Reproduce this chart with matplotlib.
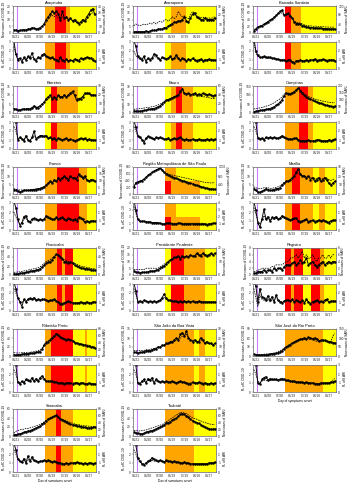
import numpy as np
import matplotlib.pyplot as plt
import matplotlib.dates as mdates

plt.rcParams['font.family'] = ['Liberation Sans', 'DejaVu Sans']

# sampling dates (every 5 days) and reference dates
days = np.arange('2020-03-16', '2020-10-03', 5, dtype='datetime64[D]')
quarantine = '2020-03-24'
tick_dates = ['2020-03-21', '2020-04-20', '2020-05-20', '2020-06-19',
              '2020-07-19', '2020-08-18', '2020-09-17']
phase_colors = {'red': '#ff0000', 'orange': '#ffa500', 'yellow': '#ffff00'}

# ---- Araçatuba
aracatuba_cases = [2,2,1.5,2,2,2.5,2,3,3,4, 3.5,3,3,4,5,7,10,12,14,16, 15,16,14,10,16,11,12,10,11,9, 10,8,7,8,10,9,12,14,17,18, 14]
aracatuba_sari = [4,5,4,4,4,5,5,6,6,7, 7,6,7,8,10,12,16,20,24,26, 24,26,22,20,24,22,22,20,21,18, 18,16,15,16,18,17,20,24,28,30, 26]
aracatuba_rt = [3.2,1.7,1.0,1.2,0.8,1.3,1.0,1.4,1.2,1.8, 1.1,0.9,1.3,1.2,1.6,1.7,1.4,1.3,1.2,1.3, 1.1,1.0,0.9,1.3,1.0,0.9,1.1,0.9,1.0,0.9, 1.1,1.0,0.9,1.2,1.1,1.2,1.3,1.2,1.2,1.0, 0.9]
aracatuba_rt_sari = [2.5,1.6,1.2,1.1,1.0,1.1,1.1,1.2,1.2,1.3, 1.2,1.1,1.2,1.2,1.4,1.5,1.4,1.3,1.2,1.2, 1.1,1.0,1.0,1.1,1.0,1.0,1.0,0.9,1.0,0.9, 1.0,1.0,1.0,1.1,1.1,1.2,1.3,1.3,1.2,1.2, 1.0]
aracatuba_change = ['2020-06-01', '2020-06-26', '2020-07-24', '2020-08-03']
aracatuba_phase = ['orange', 'red', 'orange', 'yellow']

# ---- Araraquara
araraquara_cases = [1,1,1,1,1,1,1.5,1,1.5,2, 2,2,3,3,3,4,4,5,6,7, 8,8,9,9,10,12,9,8,11,14, 15,12,11,10,10,11,10,10,10,10, 11]
araraquara_sari = [8,10,9,8,9,10,9,10,11,10, 12,10,12,13,12,14,15,13,15,18, 16,18,24,20,18,19,17,16,20,24, 22,19,18,17,17,18,16,17,16,17, 18]
araraquara_rt = [3.2,2.5,1.4,1.2,1.0,1.4,0.8,1.2,1.0,1.2, 1.7,1.5,1.2,1.0,1.3,1.2,1.1,1.2,1.4,1.1, 1.2,1.6,1.2,1.0,1.2,1.1,0.9,1.1,1.0,1.2, 1.0,0.9,1.0,1.1,0.9,1.0,1.0,1.1,1.0,1.0, 1.0]
araraquara_rt_sari = [2.0,1.5,1.2,1.1,1.1,1.2,1.0,1.1,1.1,1.2, 1.4,1.3,1.2,1.1,1.2,1.2,1.1,1.2,1.3,1.1, 1.2,1.3,1.1,1.0,1.1,1.0,1.0,1.0,1.0,1.1, 1.0,1.0,1.0,1.0,1.0,1.0,1.0,1.0,1.0,1.0, 1.0]
araraquara_change = ['2020-06-01', '2020-06-15', '2020-07-24']
araraquara_phase = ['yellow', 'orange', 'yellow']

# ---- Baixada Santista
baixada_cases = [5,12,18,20,22,26,30,34,38,42, 46,52,58,64,68,52,56,58,50,44, 32,28,28,26,22,20,18,17,16,16, 15,15,14,14,13,13,13,12,12,12, 12]
baixada_sari = [15,20,25,28,32,38,44,50,56,62, 68,76,84,90,88,80,82,80,74,66, 54,48,46,44,40,36,34,32,32,30, 30,30,28,28,28,27,27,26,26,26, 26]
baixada_rt = [3.5,2.0,1.5,1.3,1.3,1.4,1.3,1.3,1.3,1.2, 1.2,1.1,1.1,1.0,1.0,1.0,0.9,1.0,1.0,0.8, 0.7,0.9,0.9,1.0,0.9,0.9,1.0,0.9,1.0,1.0, 1.1,0.9,1.0,1.0,1.1,1.0,0.9,1.0,1.0,1.0, 0.9]
baixada_rt_sari = [3.0,1.8,1.4,1.3,1.3,1.3,1.2,1.2,1.2,1.2, 1.1,1.1,1.1,1.0,1.0,1.0,0.9,1.0,0.9,0.8, 0.8,0.9,0.9,1.0,0.9,0.9,1.0,1.0,1.0,1.0, 1.0,1.0,1.0,1.0,1.0,1.0,1.0,1.0,1.0,1.0, 1.0]
baixada_change = ['2020-06-01', '2020-06-15', '2020-07-10']
baixada_phase = ['red', 'orange', 'yellow']

# ---- Barretos
barretos_cases = [2.5,2,1.5,1.5,2,2,2,2.5,2,3, 4,3,3,4,5,6,8,9,10,8, 9,8,10,9,9,10,9,10,11,12, 10,7,8,8,9,11,11,11,10,10, 10]
barretos_sari = [5,4,4,4,4,5,5,5,5,6, 6,7,7,8,10,12,14,16,18,16, 17,16,18,18,18,19,18,19,20,22, 20,16,16,17,18,20,21,21,20,20, 20]
barretos_rt = [3.2,3.0,1.0,1.3,1.1,0.9,1.5,1.0,0.9,1.3, 2.0,1.1,1.3,1.5,1.5,1.4,1.5,1.2,1.3,1.1, 1.2,1.0,1.2,1.1,1.0,1.1,1.2,1.0,1.1,1.0, 0.9,1.0,1.1,1.2,1.1,1.2,1.0,1.1,1.0,1.0, 1.0]
barretos_rt_sari = [2.5,2.0,1.2,1.2,1.1,1.0,1.3,1.1,1.0,1.2, 1.5,1.2,1.3,1.4,1.4,1.3,1.4,1.2,1.2,1.1, 1.1,1.0,1.1,1.1,1.0,1.1,1.1,1.0,1.0,1.0, 0.9,1.0,1.0,1.1,1.1,1.1,1.0,1.0,1.0,1.0, 1.0]
barretos_change = ['2020-06-01', '2020-06-15', '2020-07-01', '2020-08-21']
barretos_phase = ['yellow', 'red', 'orange', 'yellow']

# ---- Bauru
bauru_cases = [2,2,2,2,2.5,3,3,4,4,5, 5,6,7,8,10,12,14,15,16,17, 18,19,20,24,27,22,21,22,20,21, 22,20,21,20,22,21,20,21,20,19, 20]
bauru_sari = [8,9,9,10,10,11,12,12,13,14, 15,16,18,20,22,26,28,30,32,34, 36,38,40,44,48,44,42,44,42,40, 40,38,38,37,36,36,35,34,33,32, 32]
bauru_rt = [3.2,2.4,1.5,1.3,1.0,0.7,1.2,1.4,1.3,1.2, 1.1,1.3,1.2,1.3,1.2,1.1,1.1,1.2,1.0,1.1, 1.2,1.1,1.2,1.3,1.1,1.0,1.1,1.0,1.0,1.1, 1.0,1.0,1.1,1.0,1.0,1.0,1.1,1.0,1.1,1.0, 1.1]
bauru_rt_sari = [2.5,2.0,1.4,1.2,1.1,0.9,1.1,1.3,1.2,1.2, 1.1,1.2,1.2,1.2,1.2,1.1,1.1,1.1,1.0,1.1, 1.1,1.1,1.1,1.2,1.1,1.0,1.0,1.0,1.0,1.0, 1.0,1.0,1.0,1.0,1.0,1.0,1.0,1.0,1.0,1.0, 1.0]
bauru_change = ['2020-06-01', '2020-06-15', '2020-06-29', '2020-07-13', '2020-08-10']
bauru_phase = ['yellow', 'orange', 'red', 'orange', 'yellow']

# ---- Campinas
campinas_cases = [8,10,12,14,15,18,20,22,25,30, 35,42,50,60,75,95,110,108,105,112, 118,130,140,125,110,98,90,82,76,72, 66,62,58,54,50,46,42,40,38,36, 38]
campinas_sari = [30,32,35,38,40,45,50,55,60,68, 75,85,95,105,120,140,150,148,145,150, 158,170,180,170,155,140,130,122,116,110, 104,100,96,92,88,85,82,80,78,76, 76]
campinas_rt = [3.2,3.0,1.2,1.1,1.2,1.0,1.3,1.2,1.3,1.2, 1.3,1.2,1.2,1.3,1.5,1.3,1.2,1.1,1.1,1.1, 1.2,1.2,1.0,0.9,0.9,0.9,0.9,1.0,0.9,0.9, 0.9,1.0,1.0,0.9,0.9,0.9,0.9,1.0,0.9,1.0, 1.1]
campinas_rt_sari = [2.5,2.0,1.3,1.2,1.2,1.1,1.2,1.2,1.2,1.2, 1.2,1.2,1.2,1.2,1.3,1.2,1.1,1.1,1.1,1.1, 1.1,1.1,1.0,1.0,0.9,0.9,0.9,1.0,0.9,0.9, 1.0,1.0,1.0,1.0,0.9,0.9,0.9,1.0,1.0,1.0, 1.0]
campinas_change = ['2020-06-01', '2020-07-05', '2020-07-28', '2020-08-08']
campinas_phase = ['orange', 'red', 'orange', 'yellow']

# ---- Franca
franca_cases = [2.5,2,1.5,1,1.5,2,2,2,2,2.5, 2.5,2.5,3,3,3.5,4,5,6,7,6, 8,7,9,8,9,10,9,8,10,9, 9,8,11,10,9,10,8,7,8,8, 7]
franca_sari = [4,3.5,3,3,3,3,3,3,3,3.5, 3.5,4,4,4.5,5,5.5,6.5,8,9,8.5, 10,9.5,11,11,12,13,12,11,12,12, 12,11,13,13,12,12,11,10,10,10, 10]
franca_rt = [3.2,2.5,1.2,0.5,0.8,1.5,1.6,1.0,0.9,1.2, 1.3,1.2,1.1,1.2,1.1,1.2,1.6,1.4,1.3,1.2, 1.2,1.4,1.2,1.3,1.4,1.2,1.1,1.3,1.2,1.1, 1.2,1.0,1.4,1.3,1.2,0.9,1.0,0.9,1.0,1.0, 1.0]
franca_rt_sari = [2.0,1.5,1.0,0.7,0.8,1.2,1.3,1.0,0.9,1.0, 1.1,1.1,1.0,1.1,1.1,1.2,1.4,1.3,1.2,1.1, 1.1,1.3,1.1,1.2,1.3,1.1,1.0,1.2,1.1,1.0, 1.1,1.0,1.2,1.2,1.1,0.9,0.9,0.9,1.0,1.0, 1.0]
franca_change = ['2020-06-01', '2020-07-01', '2020-08-24', '2020-09-13']
franca_phase = ['orange', 'red', 'orange', 'yellow']

# ---- Região Metropolitana de São Paulo (capital / other municipalities)
rmsp_cases = [200,340,360,380,400,440,500,550,600,640, 680,710,740,760,720,640,600,570,540,510, 480,460,440,420,400,380,360,340,320,300, 280,260,240,220,200,185,170,160,150,150, 140]
rmsp_sari = [300,500,540,570,600,660,740,820,890,950, 1010,1060,1100,1120,1050,960,920,890,860,840, 820,800,780,760,740,720,700,680,660,640, 620,600,580,560,540,520,510,500,490,500, 500]
rmsp_rt = [4.5,3.0,1.6,1.3,1.3,1.3,1.2,1.2,1.2,1.1, 1.1,1.1,1.1,1.0,0.9,0.9,1.0,1.0,1.0,0.9, 0.9,0.9,1.0,1.0,0.9,0.9,0.9,0.9,0.9,0.9, 0.9,0.9,0.9,0.9,0.9,0.9,0.8,0.9,0.9,1.0, 1.0]
rmsp_rt_sari = [3.5,2.5,1.5,1.3,1.3,1.3,1.2,1.2,1.2,1.1, 1.1,1.1,1.0,1.0,0.9,0.9,1.0,1.0,1.0,1.0, 1.0,1.0,1.0,1.0,1.0,1.0,1.0,1.0,1.0,1.0, 1.0,1.0,1.0,1.0,1.0,0.9,0.9,0.9,1.0,1.0, 1.0]
rmsp_change_upper = ['2020-06-01', '2020-06-29']
rmsp_phase_upper = ['orange', 'yellow']
rmsp_change_lower = ['2020-06-01', '2020-06-15', '2020-08-26']
rmsp_phase_lower = ['red', 'orange', 'yellow']

# ---- Marília
marilia_cases = [3,2,1,1,1.5,2,3,2.5,2,2, 2.5,3,3,3.5,5,6,7,7,8,9, 10,12,14,11,10,10,9,10,8,9, 7,8,9,7,8,9,8,6,5,6, 7]
marilia_sari = [8,7,6,6,6,7,7,7,6,6, 7,7,8,9,11,13,14,15,16,18, 20,22,24,22,20,20,19,20,18,18, 16,17,18,16,17,18,18,16,15,16, 17]
marilia_rt = [3.2,2.2,0.8,0.3,1.2,2.3,1.2,1.5,1.0,1.4, 1.3,1.5,1.2,1.3,1.6,1.4,1.3,1.2,1.1,1.2, 1.3,1.3,1.0,0.9,1.0,1.1,1.2,0.9,1.0,1.1, 0.9,1.0,1.1,1.0,1.1,1.0,0.9,0.8,1.0,1.1, 1.1]
marilia_rt_sari = [2.5,1.8,1.0,0.7,1.0,1.6,1.2,1.3,1.1,1.2, 1.2,1.3,1.2,1.2,1.4,1.3,1.2,1.2,1.1,1.1, 1.2,1.2,1.0,1.0,1.0,1.1,1.1,1.0,1.0,1.0, 1.0,1.0,1.1,1.0,1.0,1.0,1.0,0.9,1.0,1.0, 1.0]
marilia_change = ['2020-06-01', '2020-06-19', '2020-07-08', '2020-08-10', '2020-08-24', '2020-09-07']
marilia_phase = ['orange', 'red', 'orange', 'yellow', 'orange', 'yellow']

# ---- Piracicaba
piracicaba_cases = [3,2,3,4,4,5,6,7,8,9, 10,11,12,14,18,22,26,28,30,34, 40,46,44,40,36,30,28,26,28,26, 22,20,18,16,15,14,14,13,12,11, 11]
piracicaba_sari = [6,6,7,7,8,9,10,11,12,13, 14,15,16,18,22,26,30,32,34,38, 42,46,45,42,38,34,32,30,30,28, 26,24,22,20,19,18,17,16,15,14, 14]
piracicaba_rt = [3.2,2.5,1.5,1.0,0.5,1.3,1.0,1.3,1.4,1.3, 1.5,1.2,1.3,1.2,1.3,1.3,1.2,1.1,1.2,1.2, 1.3,1.1,1.0,0.8,0.8,0.9,1.0,1.1,1.0,0.9, 0.9,0.9,0.9,1.0,0.9,0.9,1.0,0.9,0.9,1.0, 1.0]
piracicaba_rt_sari = [2.5,2.0,1.4,1.1,0.9,1.2,1.1,1.2,1.3,1.2, 1.3,1.2,1.2,1.2,1.2,1.2,1.2,1.1,1.1,1.1, 1.2,1.1,1.0,0.9,0.9,0.9,1.0,1.0,1.0,0.9, 0.9,0.9,0.9,1.0,0.9,0.9,1.0,0.9,0.9,1.0, 1.0]
piracicaba_change = ['2020-06-01', '2020-07-01', '2020-07-13', '2020-07-21', '2020-08-10']
piracicaba_phase = ['orange', 'red', 'orange', 'red', 'yellow']

# ---- Presidente Prudente
prudente_cases = [3,2,2,1.5,2,2,2,2.5,3,3, 3,3.5,4,5,6,7,8,10,11,12, 13,13,14,12,14,13,14,13,15,14, 14,16,15,14,16,15,14,15,16,15, 16]
prudente_sari = [4,4,4,4,4,4,5,5,5,5, 5,5,5,6,7,8,9,10,11,12, 12,13,13,13,13,13,14,14,14,14, 14,15,15,15,15,15,15,15,15,15, 16]
prudente_rt = [3.2,2.2,1.0,1.1,1.0,1.2,1.1,1.0,1.1,1.0, 1.1,1.0,1.1,1.2,1.5,1.9,1.4,1.2,1.2,1.1, 1.1,1.1,1.0,1.1,1.0,1.1,1.0,1.1,1.0,1.1, 1.0,1.0,1.1,1.0,1.0,1.0,1.0,1.0,1.0,1.0, 1.0]
prudente_rt_sari = [2.5,1.8,1.1,1.1,1.0,1.1,1.1,1.0,1.1,1.0, 1.1,1.0,1.1,1.1,1.3,1.5,1.3,1.2,1.1,1.1, 1.1,1.1,1.0,1.1,1.0,1.0,1.0,1.0,1.0,1.0, 1.0,1.0,1.0,1.0,1.0,1.0,1.0,1.0,1.0,1.0, 1.0]
prudente_change = ['2020-06-01', '2020-06-15', '2020-07-17', '2020-09-08']
prudente_phase = ['yellow', 'red', 'orange', 'yellow']

# ---- Registro
registro_cases = [0.5,0.5,1,1,1,1.5,1,1.5,1.5,1, 2,1.5,2,2,1.5,2.5,3,3,3,3.5, 4,3,3.5,4.5,3.5,4,5,3,3.5,4, 3,2.5,3,3.5,4,3,3.5,4,3.5,4, 4]
registro_sari = [1,1,1.5,1.5,2,2,2,2,2,2.5, 2.5,3,3,3,3,3.5,4,4,5,5, 5.5,6,5,6,7,5,6,5,5,6, 5,4,5,5,6,5,5,6,5,6, 6]
registro_rt = [3.2,2.8,1.0,2.5,1.6,1.5,1.2,1.7,1.2,1.6, 1.0,1.8,1.2,1.0,0.9,1.1,1.2,1.2,1.1,1.3, 1.0,1.2,1.1,1.0,1.2,0.9,1.3,1.0,0.8,1.0, 1.1,1.2,1.0,1.1,1.0,1.2,1.3,1.0,1.1,1.1, 1.1]
registro_rt_sari = [2.5,1.5,0.5,1.8,1.3,1.2,1.1,1.4,1.0,1.3, 1.1,1.5,1.2,1.1,1.0,1.1,1.1,1.2,1.1,1.2, 1.0,1.2,1.1,1.0,1.1,1.0,1.2,1.0,0.9,1.0, 1.1,1.1,1.0,1.0,1.0,1.1,1.2,1.0,1.0,1.0, 1.0]
registro_change = ['2020-06-01', '2020-06-15', '2020-06-23', '2020-07-16', '2020-08-05', '2020-08-26', '2020-09-06']
registro_phase = ['red', 'orange', 'red', 'yellow', 'red', 'orange', 'yellow']

# ---- Ribeirão Preto
ribeirao_cases = [3,2,3,3,4,5,5,5,6,6, 7,8,9,10,15,24,30,32,36,40, 44,50,46,42,40,38,36,37,36,34, 30,28,27,26,25,24,23,22,20,19, 18]
ribeirao_sari = [10,9,9,9,10,10,10,11,11,12, 13,14,16,18,24,34,42,45,50,55, 60,66,62,58,55,52,50,50,48,46, 42,40,38,36,35,34,33,32,30,28, 27]
ribeirao_rt = [3.2,3.0,1.1,0.9,1.2,1.0,1.4,1.3,1.2,1.6, 1.2,1.5,1.2,1.6,1.8,1.5,1.2,1.2,1.2,1.2, 1.1,1.1,1.0,1.0,1.0,0.9,1.0,1.0,1.0,0.9, 1.0,1.0,0.9,1.0,1.0,0.9,0.9,1.0,0.9,0.9, 0.9]
ribeirao_rt_sari = [2.5,2.0,1.1,1.0,1.1,1.1,1.3,1.2,1.2,1.4, 1.2,1.3,1.2,1.4,1.5,1.4,1.2,1.2,1.1,1.1, 1.1,1.1,1.0,1.0,1.0,1.0,1.0,1.0,1.0,1.0, 1.0,1.0,1.0,1.0,1.0,1.0,0.9,0.9,1.0,0.9, 0.9]
ribeirao_change = ['2020-06-01', '2020-06-15', '2020-08-10', '2020-09-07', '2020-09-14']
ribeirao_phase = ['orange', 'red', 'yellow', 'orange', 'yellow']

# ---- São João da Boa Vista
sjbv_cases = [2,2,1.5,2,2,2.5,3,3,3,3.5, 4,4,5,5,6,6,7,7,8,8, 9,10,9,12,13,11,14,10,9,8, 9,8,8,10,9,7,8,7,7,6, 7]
sjbv_sari = [6,6,6,6,6,6,7,7,7,8, 8,9,10,10,11,12,13,13,14,15, 16,18,18,20,22,22,24,20,18,17, 17,16,16,18,17,15,15,14,14,13, 13]
sjbv_rt = [3.2,3.0,1.0,0.9,1.2,1.4,1.0,1.5,1.3,1.6, 1.0,1.4,1.2,1.1,1.2,1.1,1.2,1.1,1.1,1.2, 1.1,1.0,1.1,1.2,1.1,1.1,1.0,0.9,0.9,1.1, 1.0,1.0,1.1,1.0,0.9,1.0,0.9,0.9,1.0,0.9, 1.0]
sjbv_rt_sari = [2.5,2.0,1.1,1.0,1.1,1.2,1.1,1.3,1.2,1.3, 1.1,1.2,1.2,1.1,1.1,1.1,1.1,1.1,1.1,1.1, 1.1,1.0,1.1,1.1,1.1,1.0,1.0,1.0,1.0,1.0, 1.0,1.0,1.0,1.0,1.0,1.0,1.0,0.9,1.0,0.9, 1.0]
sjbv_change = ['2020-06-01', '2020-08-12', '2020-08-25', '2020-09-08']
sjbv_phase = ['orange', 'yellow', 'orange', 'yellow']

# ---- São José do Rio Preto
sjrp_cases = [6,4,3,3,3,4,4,5,6,7, 8,9,11,14,18,24,30,34,38,42, 46,50,54,56,58,60,58,62,60,58, 60,56,50,52,54,52,50,48,46,45, 44]
sjrp_sari = [10,8,8,8,9,10,11,12,13,15, 17,20,24,30,36,44,52,60,66,72, 78,84,88,92,94,92,96,94,92,94, 88,80,82,84,82,80,78,76,80,110, 125]
sjrp_rt = [3.2,3.0,1.0,0.9,1.4,1.6,1.7,1.3,1.5,1.4, 1.4,1.4,1.3,1.4,1.5,1.4,1.3,1.3,1.2,1.2, 1.2,1.1,1.1,1.1,1.1,1.0,1.1,1.0,1.0,1.0, 0.9,0.9,0.9,1.0,1.0,1.0,1.0,1.0,1.1,1.1, 1.2]
sjrp_rt_sari = [2.5,2.0,1.2,1.0,1.2,1.3,1.3,1.2,1.3,1.3, 1.3,1.3,1.3,1.3,1.3,1.3,1.2,1.2,1.2,1.1, 1.1,1.1,1.1,1.0,1.0,1.0,1.0,1.0,1.0,1.0, 1.0,0.9,0.9,1.0,1.0,1.0,1.0,1.0,1.1,1.3, 1.5]
sjrp_change = ['2020-06-01', '2020-09-03']
sjrp_phase = ['orange', 'yellow']

# ---- Sorocaba
sorocaba_cases = [3,3,4,5,6,8,10,11,12,14, 16,18,20,22,26,30,34,38,40,42, 44,46,42,38,36,34,32,28,26,25, 24,22,22,21,20,19,18,18,18,19, 20]
sorocaba_sari = [8,14,16,18,20,20,22,22,24,26, 28,30,32,34,38,42,46,50,52,55, 58,60,57,52,50,48,45,42,40,38, 36,34,34,32,31,30,30,29,28,28, 28]
sorocaba_rt = [3.2,2.5,1.5,1.2,1.1,1.5,1.0,1.8,1.2,1.7, 1.3,1.2,1.1,1.2,1.2,1.3,1.2,1.3,1.2,1.1, 1.2,1.1,1.0,1.0,0.9,0.9,1.0,0.9,1.0,1.0, 1.0,1.1,1.0,1.0,0.9,1.0,0.9,1.0,1.0,0.9, 1.0]
sorocaba_rt_sari = [2.5,2.0,1.4,1.2,1.1,1.3,1.1,1.4,1.2,1.4, 1.2,1.2,1.1,1.2,1.2,1.2,1.2,1.2,1.1,1.1, 1.1,1.1,1.0,1.0,1.0,0.9,1.0,0.9,1.0,1.0, 1.0,1.0,1.0,1.0,0.9,1.0,0.9,1.0,1.0,0.9, 1.0]
sorocaba_change = ['2020-06-01', '2020-06-29', '2020-07-10', '2020-08-10']
sorocaba_phase = ['orange', 'red', 'orange', 'yellow']

# ---- Taubaté
taubate_cases = [8,7,6,5,5,6,8,10,11,12, 14,16,18,20,22,25,28,30,32,35, 38,40,44,48,50,48,45,42,38,34, 32,30,28,25,22,20,18,16,15,15, 16]
taubate_sari = [16,16,15,15,16,17,18,20,22,24, 26,28,30,32,34,38,42,46,50,54, 58,62,66,70,70,68,66,62,58,54, 52,50,47,45,42,40,38,36,35,34, 34]
taubate_rt = [3.2,3.0,1.6,1.2,0.9,0.8,1.0,1.2,1.3,1.6, 1.4,1.3,1.2,1.3,1.2,1.1,1.3,1.2,1.2,1.1, 1.2,1.1,1.1,1.0,1.0,1.1,1.0,1.0,0.9,0.9, 0.9,0.9,0.9,0.9,0.9,0.9,0.9,1.0,1.0,1.0, 1.1]
taubate_rt_sari = [2.5,2.0,1.4,1.1,1.0,0.9,1.0,1.1,1.2,1.3, 1.2,1.2,1.2,1.2,1.2,1.1,1.2,1.2,1.1,1.1, 1.1,1.1,1.1,1.0,1.0,1.0,1.0,1.0,0.9,0.9, 0.9,0.9,0.9,0.9,0.9,0.9,0.9,1.0,1.0,1.0, 1.0]
taubate_change = ['2020-06-01', '2020-08-12']
taubate_phase = ['orange', 'yellow']

regions = [
    ('Araçatuba', aracatuba_cases, aracatuba_sari, aracatuba_rt, aracatuba_rt_sari, (20, 5), (40, 10), 3,
     [(0, 1, aracatuba_change, aracatuba_phase)]),
    ('Araraquara', araraquara_cases, araraquara_sari, araraquara_rt, araraquara_rt_sari, (20, 5), (30, 10), 3,
     [(0, 1, araraquara_change, araraquara_phase)]),
    ('Baixada Santista', baixada_cases, baixada_sari, baixada_rt, baixada_rt_sari, (80, 20), (120, 40), 3,
     [(0, 1, baixada_change, baixada_phase)]),
    ('Barretos', barretos_cases, barretos_sari, barretos_rt, barretos_rt_sari, (15, 5), (30, 10), 3,
     [(0, 1, barretos_change, barretos_phase)]),
    ('Bauru', bauru_cases, bauru_sari, bauru_rt, bauru_rt_sari, (30, 10), (60, 20), 3,
     [(0, 1, bauru_change, bauru_phase)]),
    ('Campinas', campinas_cases, campinas_sari, campinas_rt, campinas_rt_sari, (150, 50), (200, 50), 3,
     [(0, 1, campinas_change, campinas_phase)]),
    ('Franca', franca_cases, franca_sari, franca_rt, franca_rt_sari, (15, 5), (20, 5), 3,
     [(0, 1, franca_change, franca_phase)]),
    ('Região Metropolitana de São Paulo', rmsp_cases, rmsp_sari, rmsp_rt, rmsp_rt_sari, (800, 200), (1200, 400), 4,
     [(0.5, 1, rmsp_change_upper, rmsp_phase_upper), (0, 0.5, rmsp_change_lower, rmsp_phase_lower)]),
    ('Marília', marilia_cases, marilia_sari, marilia_rt, marilia_rt_sari, (15, 5), (30, 10), 3,
     [(0, 1, marilia_change, marilia_phase)]),
    ('Piracicaba', piracicaba_cases, piracicaba_sari, piracicaba_rt, piracicaba_rt_sari, (60, 20), (60, 20), 3,
     [(0, 1, piracicaba_change, piracicaba_phase)]),
    ('Presidente Prudente', prudente_cases, prudente_sari, prudente_rt, prudente_rt_sari, (20, 5), (20, 10), 3,
     [(0, 1, prudente_change, prudente_phase)]),
    ('Registro', registro_cases, registro_sari, registro_rt, registro_rt_sari, (8, 2), (8, 2), 3,
     [(0, 1, registro_change, registro_phase)]),
    ('Ribeirão Preto', ribeirao_cases, ribeirao_sari, ribeirao_rt, ribeirao_rt_sari, (60, 20), (80, 20), 3,
     [(0, 1, ribeirao_change, ribeirao_phase)]),
    ('São João da Boa Vista', sjbv_cases, sjbv_sari, sjbv_rt, sjbv_rt_sari, (15, 5), (30, 10), 3,
     [(0, 1, sjbv_change, sjbv_phase)]),
    ('São José do Rio Preto', sjrp_cases, sjrp_sari, sjrp_rt, sjrp_rt_sari, (90, 30), (150, 50), 3,
     [(0, 1, sjrp_change, sjrp_phase)]),
    ('Sorocaba', sorocaba_cases, sorocaba_sari, sorocaba_rt, sorocaba_rt_sari, (60, 20), (80, 20), 3,
     [(0, 1, sorocaba_change, sorocaba_phase)]),
    ('Taubaté', taubate_cases, taubate_sari, taubate_rt, taubate_rt_sari, (60, 20), (80, 20), 3,
     [(0, 1, taubate_change, taubate_phase)]),
]

W, H = 350, 482
fig = plt.figure(figsize=(W / 100, H / 100), dpi=100)

x = mdates.date2num(days)
x0 = mdates.date2num(np.datetime64('2020-03-14'))
x1 = mdates.date2num(np.datetime64('2020-10-05'))
xq = mdates.date2num(np.datetime64(quarantine))
xt = mdates.date2num(np.array(tick_dates, dtype='datetime64[D]'))
xt_labels = [d[5:7] + '/' + d[8:10] for d in tick_dates]

col_left = [13, 133, 253]
row_top = [6, 86, 167, 248, 329, 409]
ax_w, ax_h, gap = 83, 27, 9
fs = 2.3


def add_ax(px, py, pw, ph):
    return fig.add_axes([px / W, 1 - (py + ph) / H, pw / W, ph / H])


def draw_bands(ax, zones):
    for lo, hi, change, phase in zones:
        edges = list(mdates.date2num(np.array(change, dtype='datetime64[D]'))) + [x1]
        for a, b, p in zip(edges[:-1], edges[1:], phase):
            ax.axvspan(a, b, ymin=lo, ymax=hi, color=phase_colors[p], lw=0, zorder=0)


def style(ax):
    ax.tick_params(labelsize=fs, length=1.0, width=0.3, pad=0.6, colors='#222')
    for s in ax.spines.values():
        s.set_color('#777')
        s.set_linewidth(0.4)


for k, (name, cases, sari, rt, rt_sari, lc, rc, rtmax, zones) in enumerate(regions):
    row, col = divmod(k, 3)
    px, py = col_left[col], row_top[row]

    top = add_ax(px, py, ax_w, ax_h)
    bot = add_ax(px, py + ax_h + gap, ax_w, ax_h)

    for ax in (top, bot):
        draw_bands(ax, zones)
        ax.axvline(xq, color='#c77dff', lw=0.8, zorder=2)
        ax.set_xlim(x0, x1)
        ax.set_xticks(xt)
        ax.set_xticklabels(xt_labels)

    top.plot(x, cases, color='k', lw=0.65, marker='o', ms=0.8, zorder=3)
    top.set_ylim(0, lc[0])
    top.set_yticks(np.arange(0, lc[0] + 0.01, lc[1]))
    top.set_ylabel('New cases of COVID-19', fontsize=fs, labelpad=0.8)
    top.set_title(name, fontsize=2.9, pad=1.2)
    top2 = top.twinx()
    top2.plot(x, sari, color='k', lw=0.55, ls=(0, (2, 1.2)), zorder=3)
    top2.set_ylim(0, rc[0])
    top2.set_yticks(np.arange(0, rc[0] + 0.01, rc[1]))
    top2.set_ylabel('New cases of SARI', fontsize=fs, labelpad=1)

    bot.plot(x, rt, color='k', lw=0.65, marker='o', ms=0.8, zorder=3)
    bot.set_ylim(0, rtmax)
    bot.set_yticks(range(0, rtmax + 1))
    bot.set_ylabel('R$_t$ of COVID-19', fontsize=fs, labelpad=0.8)
    bot2 = bot.twinx()
    bot2.plot(x, rt_sari, color='k', lw=0.55, ls=(0, (2, 1.2)), zorder=3)
    bot2.set_ylim(0, rtmax)
    bot2.set_yticks(range(0, rtmax + 1))
    bot2.set_ylabel('R$_t$ of SARI', fontsize=fs, labelpad=1)

    for ax in (top, top2, bot, bot2):
        style(ax)

    if k >= 14:
        bot.set_xlabel('Day of symptoms onset', fontsize=fs, labelpad=0.8)

fig.savefig('out.png', dpi=100)
